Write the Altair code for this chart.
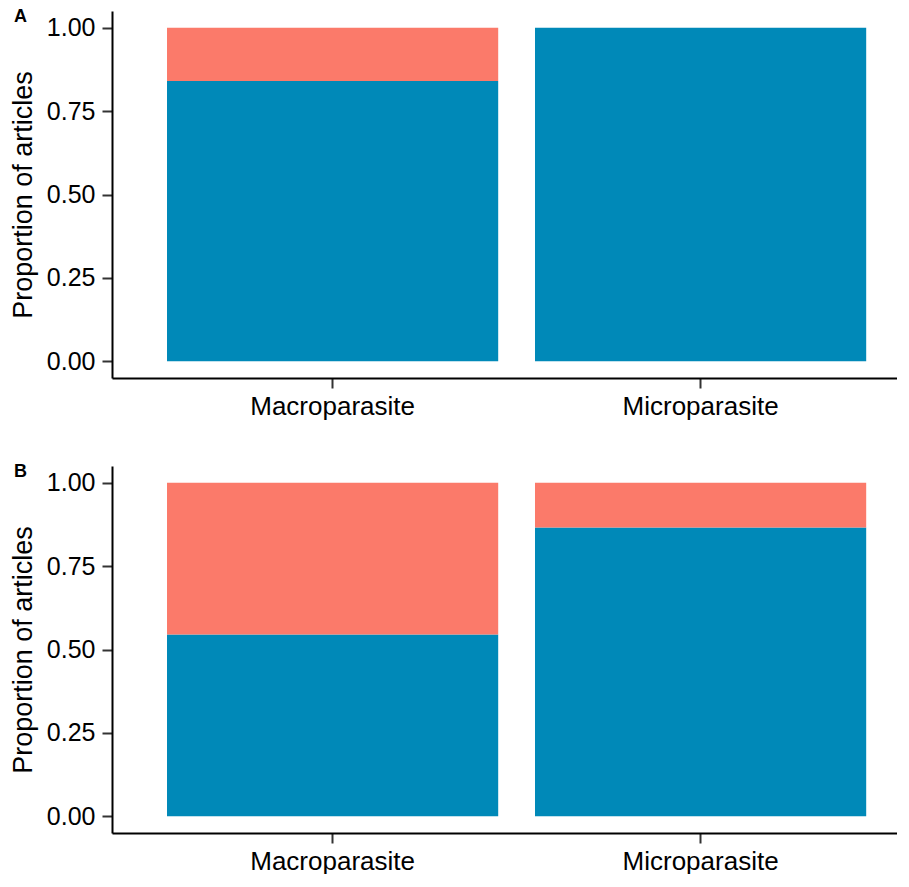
import altair as alt
import pandas as pd

categories = ["Macroparasite", "Microparasite"]
series = ["Group 1", "Group 2"]
panel_a_blue = [0.84, 1.00]
panel_a_red = [0.16, 0.00]
panel_b_blue = [0.545, 0.866]
panel_b_red = [0.455, 0.134]
y_ticks = [0.0, 0.25, 0.5, 0.75, 1.0]
colors = ["#0089B8", "#FB7A6A"]

FONT = "Liberation Sans"
W = 785
H = 367


def make_df(blue, red):
    rows = []
    for c, b, r in zip(categories, blue, red):
        rows.append({"type": c, "group": series[0], "ord": 0, "prop": b})
        rows.append({"type": c, "group": series[1], "ord": 1, "prop": r})
    return pd.DataFrame(rows)


def panel(df, letter):
    bars = alt.Chart(df).mark_bar().encode(
        x=alt.X(
            "type:N",
            sort=categories,
            scale=alt.Scale(paddingInner=0.1, paddingOuter=0.1166, align=0.641),
            axis=alt.Axis(title=None, labelAngle=0, labelFontSize=26,
                          labelPadding=5, tickSize=10),
        ),
        y=alt.Y(
            "prop:Q",
            stack="zero",
            scale=alt.Scale(domain=[-0.05, 1.05], nice=False, zero=False),
            axis=alt.Axis(values=y_ticks, format=".2f", title="Proportion of articles",
                          labelFontSize=25, labelPadding=7, tickSize=10,
                          titleFontSize=27, titlePadding=9),
        ),
        color=alt.Color("group:N", scale=alt.Scale(domain=series, range=colors), legend=None),
        order=alt.Order("ord:Q", sort="ascending"),
    )
    label = alt.Chart(pd.DataFrame({"panel": [letter]})).mark_text(
        align="left", baseline="alphabetic", fontSize=18, fontWeight="bold",
        font=FONT, color="black"
    ).encode(x=alt.value(-98), y=alt.value(11), text="panel:N")
    return alt.layer(bars, label).properties(width=W, height=H)


chart = alt.vconcat(
    panel(make_df(panel_a_blue, panel_a_red), "A"),
    panel(make_df(panel_b_blue, panel_b_red), "B"),
    spacing=44,
).properties(
    padding={"left": 1, "top": 0, "right": 0, "bottom": 0}
).configure_view(stroke=None).configure_axis(
    grid=False,
    domainColor="black",
    domainWidth=2,
    tickColor="#333333",
    tickWidth=2,
    labelColor="black",
    labelFont=FONT,
    titleFont=FONT,
    titleColor="black",
    titleFontWeight="normal",
).configure_concat(spacing=44)

chart.save("out.html", embed_options={"renderer": "svg", "actions": False})
